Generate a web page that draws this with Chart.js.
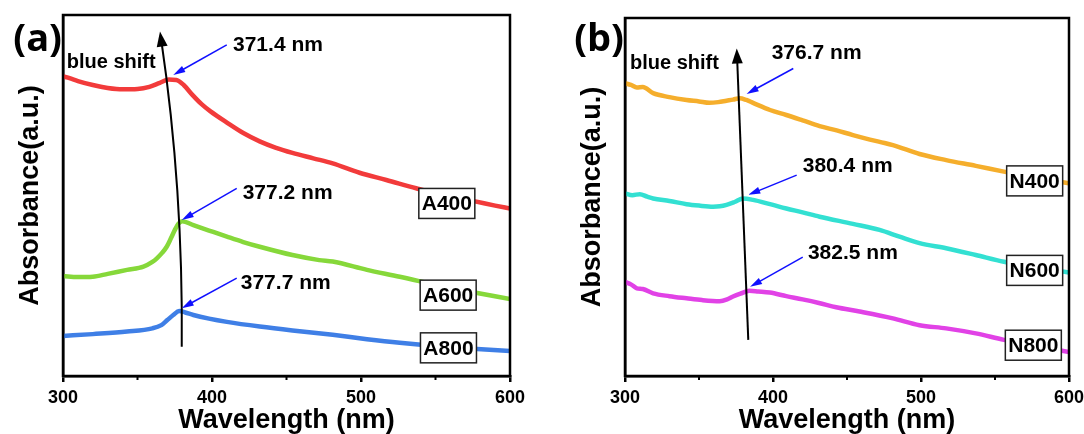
<!DOCTYPE html>
<html lang="en">
<head>
<meta charset="UTF-8">
<title>UV-Vis absorbance - blue shift</title>
<script src="https://cdn.jsdelivr.net/npm/chart.js"></script>
<style>
  * { margin: 0; padding: 0; box-sizing: border-box; }
  body { width: 1084px; height: 434px; background: #fff; overflow: hidden; position: relative; }
  canvas { position: absolute; top: 0; }
  #chartA { left: 0; }
  #chartB { left: 540px; }
</style>
</head>
<body>
<canvas id="chartA" width="540" height="434"></canvas>
<canvas id="chartB" width="544" height="434"></canvas>
<script>
// ---- panel (a) : A400 / A600 / A800 ----
const wlA400  = [300, 310, 320, 330, 340, 350, 358, 365, 371, 376, 381, 387, 393, 399, 410, 421, 432, 443, 454, 468, 481, 499, 517, 537, 555, 575, 590, 600];
const absA400 = [0.831, 0.817, 0.806, 0.798, 0.794, 0.795, 0.801, 0.812, 0.821, 0.820, 0.806, 0.778, 0.753, 0.733, 0.702, 0.673, 0.650, 0.632, 0.618, 0.603, 0.589, 0.563, 0.543, 0.520, 0.501, 0.485, 0.472, 0.464];

const wlA600  = [300, 310, 320, 330, 343, 354, 360, 363, 366.5, 369.6, 372.5, 375, 377.5, 380, 387.5, 398, 410, 421, 432, 454, 472, 481, 504, 526, 556, 578, 600];
const absA600 = [0.277, 0.274, 0.275, 0.283, 0.294, 0.303, 0.316, 0.326, 0.341, 0.358, 0.382, 0.404, 0.422, 0.429, 0.418, 0.403, 0.386, 0.371, 0.358, 0.335, 0.321, 0.317, 0.294, 0.275, 0.247, 0.230, 0.213];

const wlA800  = [300, 320, 343, 360, 366, 370, 374, 378, 382, 387.5, 398, 410, 432, 454, 481, 504, 526, 556, 578, 600];
const absA800 = [0.111, 0.116, 0.123, 0.132, 0.141, 0.155, 0.169, 0.180, 0.176, 0.169, 0.159, 0.150, 0.137, 0.126, 0.114, 0.102, 0.092, 0.081, 0.075, 0.069];

// ---- panel (b) : N400 / N600 / N800 ----
const wlN400  = [300, 304, 308, 312, 319, 330, 341.6, 350, 357, 363, 368.6, 373, 377.5, 382, 386.5, 398, 409, 420, 431.5, 443, 454, 472, 481, 499, 517, 537, 556, 578, 600];
const absN400 = [0.818, 0.813, 0.806, 0.807, 0.790, 0.779, 0.771, 0.767, 0.763, 0.765, 0.769, 0.772, 0.776, 0.771, 0.763, 0.743, 0.729, 0.714, 0.698, 0.686, 0.673, 0.654, 0.645, 0.620, 0.603, 0.587, 0.571, 0.554, 0.538];

const wlN600  = [300, 305, 310, 315, 319, 330, 341.6, 350, 359.5, 364, 368.6, 374, 379.8, 386.5, 398, 409, 420, 431.5, 454, 472, 485.5, 499, 517, 537, 556, 578, 600];
const absN600 = [0.510, 0.505, 0.508, 0.501, 0.496, 0.489, 0.480, 0.476, 0.473, 0.474, 0.478, 0.486, 0.496, 0.492, 0.480, 0.468, 0.457, 0.445, 0.425, 0.408, 0.389, 0.371, 0.357, 0.338, 0.319, 0.304, 0.289];

const wlN800  = [300, 304, 308, 312, 319, 330, 341.6, 352, 364, 369, 373, 378, 384, 390, 397.8, 409, 420, 431, 442.7, 458.5, 481, 499, 517, 537, 556, 578, 600];
const absN800 = [0.263, 0.256, 0.245, 0.243, 0.231, 0.223, 0.217, 0.212, 0.209, 0.214, 0.222, 0.230, 0.238, 0.236, 0.233, 0.223, 0.214, 0.204, 0.192, 0.180, 0.161, 0.142, 0.133, 0.119, 0.101, 0.084, 0.067];

const xTicks = [300, 400, 500, 600];
const xMinorTicks = [350, 450, 550];

const samplesA = ['A400', 'A600', 'A800'];
const samplesB = ['N400', 'N600', 'N800'];
const colorsA = ['#f23b3b', '#86d83a', '#3f7fe6'];
const colorsB = ['#f5ae2c', '#33e0d2', '#e142e6'];

// annotations, in (nm, a.u.)
const peakTextA = ['371.4 nm', '377.2 nm', '377.7 nm'];
const peakTextB = ['376.7 nm', '380.4 nm', '382.5 nm'];
const peakTextPosA = [[414.1, 0.917], [420.6, 0.507], [419.3, 0.258]];
const peakTextPosB = [[399.1, 0.902], [420.1, 0.585], [423.6, 0.343]];
const peakArrowA = [[[409.9, 0.917], [374.0, 0.834]], [[416.6, 0.520], [379.7, 0.432]], [[416.6, 0.271], [379.7, 0.188]]];
const peakArrowB = [[[413.7, 0.859], [382.2, 0.788]], [[416.0, 0.561], [383.3, 0.506]], [[420.1, 0.332], [384.5, 0.249]]];
const labelPosA = [[557.6, 0.478], [558.5, 0.224], [558.7, 0.078]];
const labelPosB = [[576.8, 0.545], [576.8, 0.295], [575.9, 0.086]];
const shiftArrowA = [[379.7, 0.081], [380.7, 0.518], [365.1, 0.954]];  // tail, control, head
const shiftArrowB = [[383.3, 0.101], [379.4, 0.508], [375.5, 0.915]];
const shiftTextPosA = [302.5, 0.868];
const shiftTextPosB = [303.4, 0.873];

const FONT = '"Liberation Sans", Arial, sans-serif';

function toXY(xs, ys) {
    return xs.map((x, i) => ({ x: x, y: ys[i] }));
}

function arrowHead(ctx, x, y, ang, len, half) {
    ctx.beginPath();
    ctx.moveTo(x, y);
    ctx.lineTo(x - len * Math.cos(ang) + half * Math.sin(ang), y - len * Math.sin(ang) - half * Math.cos(ang));
    ctx.lineTo(x - len * Math.cos(ang) - half * Math.sin(ang), y - len * Math.sin(ang) + half * Math.cos(ang));
    ctx.closePath();
    ctx.fill();
}

const decorPlugin = {
    id: 'decor',
    afterDraw(chart) {
        const o = chart.options.plugins.decor;
        const { ctx, chartArea: a } = chart;
        const sx = chart.scales.x, sy = chart.scales.y;
        const P = p => [sx.getPixelForValue(p[0]), sy.getPixelForValue(p[1])];
        ctx.save();

        // frame
        ctx.strokeStyle = '#000';
        ctx.lineWidth = 2.5;
        ctx.strokeRect(a.left, a.top, a.right - a.left, a.bottom - a.top);

        // minor ticks
        ctx.lineWidth = 2;
        xMinorTicks.forEach(v => {
            const x = sx.getPixelForValue(v);
            ctx.beginPath();
            ctx.moveTo(x, a.bottom);
            ctx.lineTo(x, a.bottom + 4);
            ctx.stroke();
        });

        // blue shift arrow
        const [t, c, h] = o.shift.map(P);
        ctx.strokeStyle = '#000';
        ctx.fillStyle = '#000';
        ctx.lineWidth = 2;
        const ang = Math.atan2(h[1] - c[1], h[0] - c[0]);
        ctx.beginPath();
        ctx.moveTo(t[0], t[1]);
        ctx.quadraticCurveTo(c[0], c[1], h[0] - 8 * Math.cos(ang), h[1] - 8 * Math.sin(ang));
        ctx.stroke();
        arrowHead(ctx, h[0], h[1], ang, 15, 5.5);

        ctx.font = 'bold 20px ' + FONT;
        ctx.textBaseline = 'middle';
        ctx.textAlign = 'left';
        const st = P(o.shiftText);
        ctx.fillText('blue shift', st[0], st[1]);

        // peak arrows and values
        ctx.strokeStyle = '#1010ff';
        ctx.fillStyle = '#1010ff';
        ctx.lineWidth = 1.5;
        o.arrows.forEach(ar => {
            const p0 = P(ar[0]), p1 = P(ar[1]);
            const an = Math.atan2(p1[1] - p0[1], p1[0] - p0[0]);
            ctx.beginPath();
            ctx.moveTo(p0[0], p0[1]);
            ctx.lineTo(p1[0] - 6 * Math.cos(an), p1[1] - 6 * Math.sin(an));
            ctx.stroke();
            arrowHead(ctx, p1[0], p1[1], an, 12, 3.5);
        });
        ctx.fillStyle = '#000';
        ctx.font = 'bold 21px ' + FONT;
        o.peakText.forEach((s, i) => {
            const p = P(o.peakPos[i]);
            ctx.fillText(s, p[0], p[1]);
        });

        // sample labels in boxes
        ctx.textAlign = 'center';
        o.labels.forEach((s, i) => {
            const p = P(o.labelPos[i]);
            ctx.fillStyle = '#fff';
            ctx.fillRect(p[0] - 28, p[1] - 15, 56, 30);
            ctx.strokeStyle = '#222';
            ctx.lineWidth = 1.5;
            ctx.strokeRect(p[0] - 28, p[1] - 15, 56, 30);
            ctx.fillStyle = '#000';
            ctx.fillText(s, p[0], p[1] + 1);
        });

        // panel letter
        ctx.font = 'bold 38px "Open Sans", sans-serif';
        ctx.textAlign = 'right';
        ctx.fillText(o.letter, a.left - 1, 40);
        ctx.restore();
    }
};

function makeChart(id, wls, abss, colors, layout, decor) {
    const datasets = [];
    wls.forEach((wl, i) => {
        datasets.push({
            data: toXY(wl, abss[i]),
            borderColor: colors[i],
            borderWidth: 4.5,
            pointRadius: 0,
            cubicInterpolationMode: 'monotone',
            fill: false
        });
        // light speckle, like the hollow markers of the original
        datasets.push({
            data: toXY(wl, abss[i]),
            borderColor: 'rgba(255,255,255,0.45)',
            borderWidth: 1.2,
            borderDash: [2, 2.5],
            pointRadius: 0,
            cubicInterpolationMode: 'monotone',
            fill: false
        });
    });
    return new Chart(document.getElementById(id), {
        type: 'line',
        data: { datasets: datasets },
        plugins: [decorPlugin],
        options: {
            responsive: false,
            animation: false,
            events: [],
            layout: { padding: { left: 0, right: layout.right, top: layout.top, bottom: 0 } },
            plugins: { legend: { display: false }, tooltip: { enabled: false }, decor: decor },
            scales: {
                x: {
                    type: 'linear', min: 300, max: 600,
                    afterBuildTicks: s => { s.ticks = xTicks.map(v => ({ value: v })); },
                    ticks: { color: '#000', padding: 5, font: { family: FONT, size: 18, weight: 'bold' } },
                    grid: { display: true, drawOnChartArea: false, drawTicks: true, tickLength: 6, color: '#000', lineWidth: 2.5 },
                    border: { display: true, color: '#000', width: 2.5 },
                    title: { display: true, text: 'Wavelength (nm)', color: '#000', padding: { top: 0, bottom: 0 },
                             font: { family: FONT, size: 27, weight: 'bold', lineHeight: 1 } },
                    afterFit: s => { s.height = 58; s.paddingLeft = 0; s.paddingRight = 0; }
                },
                y: {
                    min: 0, max: 1,
                    ticks: { display: false },
                    grid: { display: false },
                    border: { display: true, color: '#000', width: 2.5 },
                    title: { display: true, text: 'Absorbance(a.u.)', color: '#000', padding: { top: layout.titlePad, bottom: 0 },
                             font: { family: FONT, size: 27, weight: 'bold', lineHeight: 1 } },
                    afterFit: s => { s.width = layout.left; s.paddingTop = 0; s.paddingBottom = 0; }
                }
            }
        }
    });
}

makeChart('chartA', [wlA400, wlA600, wlA800], [absA400, absA600, absA800], colorsA,
    { left: 63, right: 30, top: 15, titlePad: 17.5 },
    { letter: '(a)', shift: shiftArrowA, shiftText: shiftTextPosA, arrows: peakArrowA,
      peakText: peakTextA, peakPos: peakTextPosA, labels: samplesA, labelPos: labelPosA });

makeChart('chartB', [wlN400, wlN600, wlN800], [absN400, absN600, absN800], colorsB,
    { left: 85, right: 15, top: 18, titlePad: 39.5 },
    { letter: '(b)', shift: shiftArrowB, shiftText: shiftTextPosB, arrows: peakArrowB,
      peakText: peakTextB, peakPos: peakTextPosB, labels: samplesB, labelPos: labelPosB });
</script>
</body>
</html>
